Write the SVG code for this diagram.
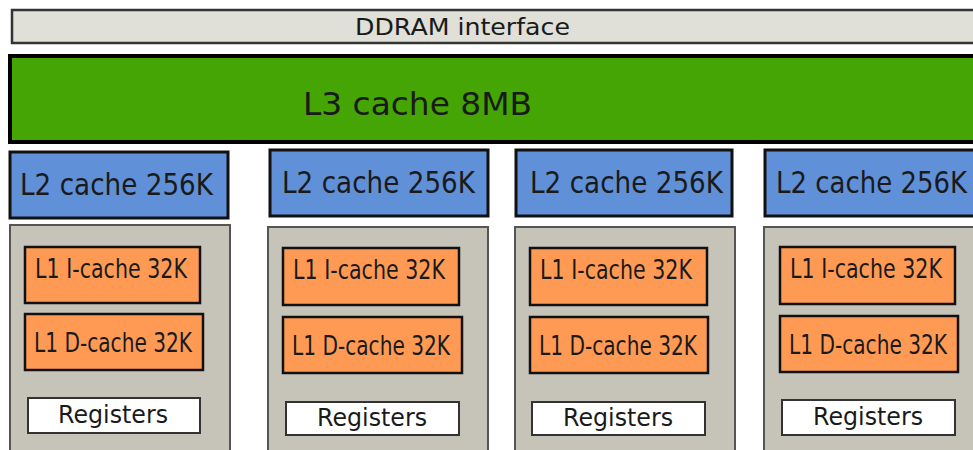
<svg xmlns="http://www.w3.org/2000/svg" width="973" height="450" viewBox="0 0 973 450">
<style>
text{font-family:"DejaVu Sans","Liberation Sans",sans-serif;fill:#1a1a1a}
.ddr{fill:#e0dfd8;stroke:#333;stroke-width:2.5}
.l3{fill:#44a505;stroke:#000;stroke-width:4}
.l2{fill:#6090d8;stroke:#111;stroke-width:3}
.core{fill:#c6c3b8;stroke:#555;stroke-width:2}
.l1{fill:#ff9a55;stroke:#111;stroke-width:2.5}
.reg{fill:#fff;stroke:#333;stroke-width:2}
.t2{font-size:24px}
.ti{font-size:20.6px}
.td{font-size:20.1px}
.tr{font-size:24px}
</style>
<g id="ddram">
<rect class="ddr" x="12" y="10" width="963" height="33"/>
<text x="355" y="35" font-size="23" textLength="215" lengthAdjust="spacingAndGlyphs">DDRAM interface</text>
</g>
<g id="l3">
<rect class="l3" x="10" y="56" width="966" height="86"/>
<text x="303" y="115" font-size="32" textLength="229" lengthAdjust="spacingAndGlyphs">L3 cache 8MB</text>
</g>
<g id="connectors"></g>
<g id="core1">
<rect class="l2" x="10" y="152" width="218" height="66"/>
<text class="t2" transform="translate(20,195) scale(1,1.25)" textLength="193" lengthAdjust="spacingAndGlyphs">L2 cache 256K</text>
<rect class="core" x="10" y="225" width="220" height="240"/>
<rect class="l1" x="25" y="247" width="175" height="56"/>
<text class="ti" transform="translate(35,278) scale(1,1.26)" textLength="152" lengthAdjust="spacingAndGlyphs">L1 I-cache 32K</text>
<rect class="l1" x="25" y="314" width="178" height="56"/>
<text class="td" transform="translate(34,352) scale(1,1.3)" textLength="158" lengthAdjust="spacingAndGlyphs">L1 D-cache 32K</text>
<rect class="reg" x="28" y="398" width="172" height="35"/>
<text class="tr" x="58" y="423" textLength="110" lengthAdjust="spacingAndGlyphs">Registers</text>
</g>
<g id="core2">
<rect class="l2" x="270" y="150" width="218" height="66"/>
<text class="t2" transform="translate(282,193) scale(1,1.25)" textLength="193" lengthAdjust="spacingAndGlyphs">L2 cache 256K</text>
<rect class="core" x="268" y="227" width="220" height="240"/>
<rect class="l1" x="283" y="248" width="176" height="57"/>
<text class="ti" transform="translate(293,279) scale(1,1.26)" textLength="152" lengthAdjust="spacingAndGlyphs">L1 I-cache 32K</text>
<rect class="l1" x="283" y="317" width="179" height="56"/>
<text class="td" transform="translate(292,355) scale(1,1.3)" textLength="158" lengthAdjust="spacingAndGlyphs">L1 D-cache 32K</text>
<rect class="reg" x="286" y="402" width="173" height="33"/>
<text class="tr" x="317" y="426" textLength="110" lengthAdjust="spacingAndGlyphs">Registers</text>
</g>
<g id="core3">
<rect class="l2" x="516" y="150" width="216" height="66"/>
<text class="t2" transform="translate(530,193) scale(1,1.25)" textLength="193" lengthAdjust="spacingAndGlyphs">L2 cache 256K</text>
<rect class="core" x="515" y="227" width="220" height="240"/>
<rect class="l1" x="530" y="248" width="177" height="57"/>
<text class="ti" transform="translate(540,279) scale(1,1.26)" textLength="152" lengthAdjust="spacingAndGlyphs">L1 I-cache 32K</text>
<rect class="l1" x="530" y="317" width="178" height="56"/>
<text class="td" transform="translate(539,355) scale(1,1.3)" textLength="158" lengthAdjust="spacingAndGlyphs">L1 D-cache 32K</text>
<rect class="reg" x="532" y="402" width="173" height="33"/>
<text class="tr" x="563" y="426" textLength="110" lengthAdjust="spacingAndGlyphs">Registers</text>
</g>
<g id="core4">
<rect class="l2" x="765" y="150" width="210" height="66"/>
<text class="t2" transform="translate(776,193) scale(1,1.25)" textLength="191" lengthAdjust="spacingAndGlyphs">L2 cache 256K</text>
<rect class="core" x="764" y="227" width="211" height="240"/>
<rect class="l1" x="780" y="247" width="175" height="57"/>
<text class="ti" transform="translate(790,278) scale(1,1.26)" textLength="152" lengthAdjust="spacingAndGlyphs">L1 I-cache 32K</text>
<rect class="l1" x="780" y="316" width="178" height="56"/>
<text class="td" transform="translate(789,354) scale(1,1.3)" textLength="158" lengthAdjust="spacingAndGlyphs">L1 D-cache 32K</text>
<rect class="reg" x="782" y="400" width="173" height="35"/>
<text class="tr" x="813" y="425" textLength="110" lengthAdjust="spacingAndGlyphs">Registers</text>
</g>
</svg>
